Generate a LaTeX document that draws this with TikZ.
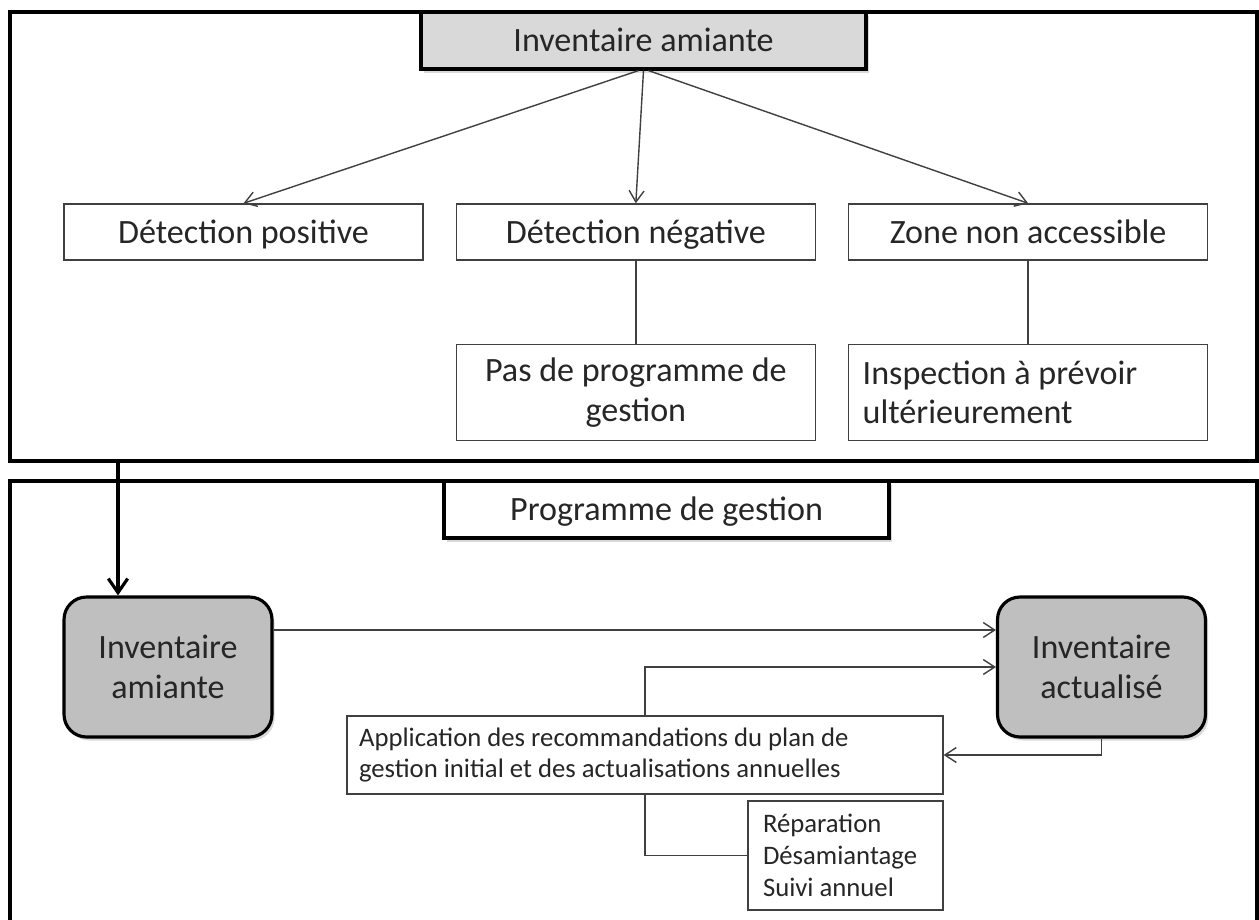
\documentclass[tikz,border=0pt]{standalone}
\usepackage{fontspec}
\setmainfont{Carlito}
\usetikzlibrary{arrows.meta, positioning, shadows}

\definecolor{titlegray}{HTML}{D9D9D9}
\definecolor{boxgray}{HTML}{BFBFBF}
\definecolor{linegray}{HTML}{404040}
\definecolor{textgray}{HTML}{262626}

\newcommand{\bigtxt}{\fontsize{19.4}{22.7}\selectfont}
\newcommand{\smalltxt}{\fontsize{15.2}{18.1}\selectfont}

\begin{document}
\begin{tikzpicture}[x=0.02cm,y=-0.02cm,->,>={Straight Barb[length=6.5pt,width=8.5pt]},
  every node/.style={text=textgray},
  frame/.style={line width=1.8pt,-},
  conn/.style={draw=linegray,line width=0.8pt},
  link/.style={draw=linegray,line width=0.8pt,-},
  oneline/.style={text height=15.5pt,text depth=2.5pt},
  shade/.style={drop shadow={shadow xshift=1.5pt,shadow yshift=-2pt,opacity=.3}},
  headbox/.style={draw=black,line width=1.8pt,minimum width=8.9cm,minimum height=1.14cm,font=\bigtxt,oneline,shade},
  item/.style={draw=linegray,line width=0.8pt,fill=white,minimum width=7.18cm,minimum height=1.12cm,font=\bigtxt},
  note/.style={draw=linegray,line width=0.8pt,fill=white,align=flush left,font=\smalltxt},
  stock/.style={draw=black,line width=1.8pt,fill=boxgray,rounded corners=0.45cm,minimum width=4.16cm,minimum height=2.8cm,align=center,font=\bigtxt,shade}]

\useasboundingbox (0,0) rectangle (1259,920);

% the two frames
\draw[frame] (10,12) rectangle (1257,461);
\draw[frame] (10,925) -- (10,481) -- (1257,481) -- (1257,925);

% inventory part
\node[headbox,fill=titlegray] (titre) at (643.5,40.5) {Inventaire amiante};
\node[item,oneline] (detpos) at (243.5,232) {Détection positive};
\node[item,oneline,right=0.64cm of detpos] (detneg) {Détection négative};
\node[item,oneline,right=0.64cm of detneg] (zone) {Zone non accessible};
\node[item,minimum height=1.92cm,align=center,below=1.66cm of detneg] (pasprog) {Pas de programme de\\gestion};
\node[item,minimum height=1.92cm,align=flush left,text width=6.62cm,inner xsep=0.28cm,below=1.66cm of zone] (inspect) {Inspection à prévoir\\ultérieurement};

% From the title to the three results
\draw[conn] ([xshift=-0.1cm]titre.south) -- (detpos.north);
\draw[conn] (titre.south) -- (detneg.north);
\draw[conn] ([xshift=0.1cm]titre.south) -- (zone.north);
\draw[link] (detneg) -- (pasprog);
\draw[link] (zone) -- (inspect);

% management part
\node[headbox,fill=white] (progges) at (666.5,509.5) {Programme de gestion};
\node[stock] (invam) at (168,667) {Inventaire\\amiante};
\node[stock] (invact) at (1101.5,667) {Inventaire\\actualisé};
\node[note,text width=11.44cm,inner xsep=0.24cm,minimum height=1.56cm] (applic) at (645,755) {Application des recommandations du plan de\\gestion initial et des actualisations annuelles};
\node[note,text width=3.3cm,inner xsep=0.3cm,minimum height=2.18cm] (repar) at (845.5,855.5) {Réparation\\Désamiantage\\Suivi annuel};

% From the first frame into the management part
\coordinate (sortie) at (118,461);
\draw[line width=1.8pt,-{Straight Barb[length=8pt,width=11pt]}] (sortie) -- (sortie |- invam.north);

% From one inventory to the other
\draw[conn] ([yshift=0.74cm]invam.east) -- ([yshift=0.74cm]invact.west);
\draw[conn] (applic.north) |- (invact.west);
\draw[conn] (invact.south) |- (applic.east);
\draw[link] (applic.south) |- (repar.west);
\end{tikzpicture}
\end{document}
